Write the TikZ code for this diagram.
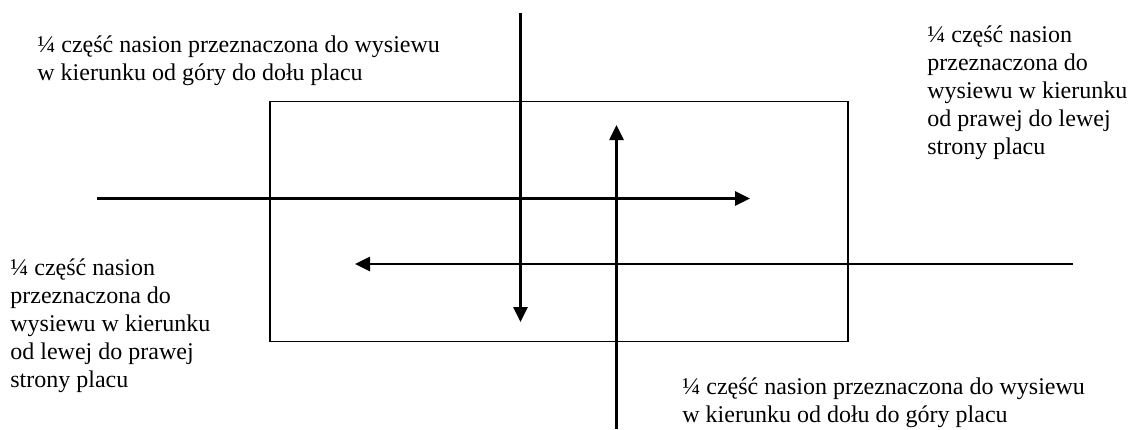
\documentclass[tikz,border=0pt]{standalone}
\usepackage{fontspec}
\setmainfont{Liberation Serif}
\usetikzlibrary{positioning, arrows.meta}

\begin{document}
\begin{tikzpicture}[
                x=0.5pt, y=-0.5pt,
                plac/.style={rectangle, draw=black, line width=0.9pt, minimum width=289pt, minimum height=120pt},
                opis/.style={anchor=base west, align=left, inner sep=0pt, font=\fontsize{12}{14}\selectfont},
                arrow/.style={-{Triangle[length=7.5pt, width=7pt]}, line width=1.3pt, black}
            ]
            \useasboundingbox (0,0) rectangle (1147,429);

            % Plac
            \node[plac] (plac) at (559,221.5) {};

            % Konce strzalek
            \coordinate (gora) at (520.5,13);
            \coordinate (dol) at (520.5,322);
            \coordinate (dolStart) at (616.5,429);
            \coordinate (goraKoniec) at (616.5,125);
            \coordinate (lewo) at (97,198.5);
            \coordinate (prawoKoniec) at (750,198.5);
            \coordinate (prawo) at (1073,264);
            \coordinate (lewoKoniec) at (355,264);

            % Strzalki
            \draw[arrow] (gora) -- (dol);
            \draw[arrow] (dolStart) -- (goraKoniec);
            \draw[arrow] (lewo) -- (prawoKoniec);
            \draw[arrow] (prawo) -- (lewoKoniec);

            % Opisy (base = ostatnia linia)
            \node[opis] (opisGora) at (37,80) {¼ część nasion przeznaczona do wysiewu\\w kierunku od góry do dołu placu};
            \node[opis] (opisPrawo) at (927,154) {¼ część nasion\\przeznaczona do\\wysiewu w kierunku\\od prawej do lewej\\strony placu};
            \node[opis] (opisLewo) at (10,387) {¼ część nasion\\przeznaczona do\\wysiewu w kierunku\\od lewej do prawej\\strony placu};
            \node[opis] (opisDol) at (682,422) {¼ część nasion przeznaczona do wysiewu\\w kierunku od dołu do góry placu};
        \end{tikzpicture}
\end{document}
